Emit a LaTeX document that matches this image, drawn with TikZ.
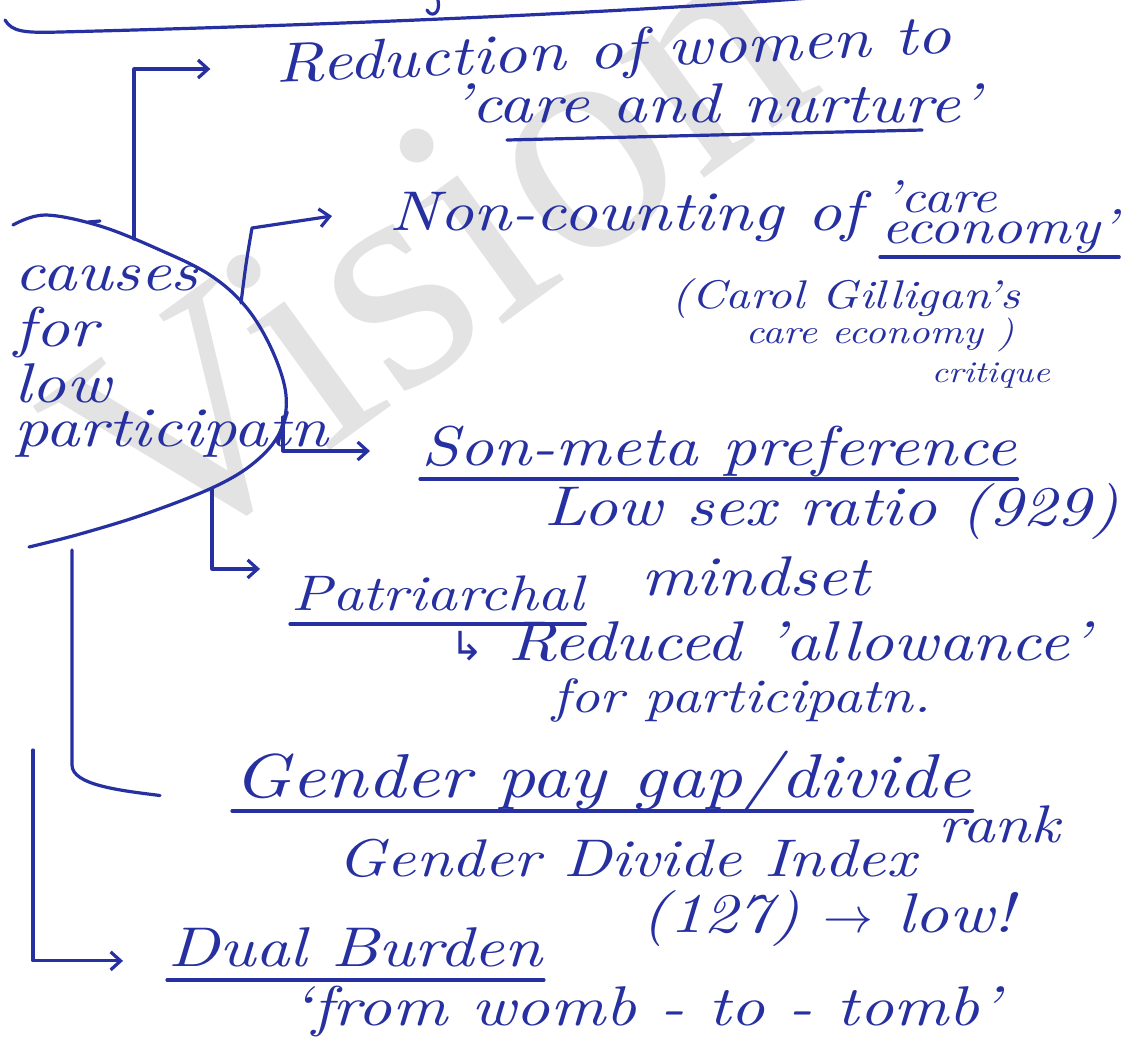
\documentclass[tikz,border=0pt]{standalone}
\usepackage{fontspec}
\usepackage{xcolor}
\newfontfamily\symfont{DejaVu Sans}
\newfontfamily\markfont{Liberation Serif}
\newfontfamily\hand[FakeStretch=1.2,Ligatures=TeX]{lmroman10-italic.otf}
\usetikzlibrary{arrows.meta}
\definecolor{pen}{RGB}{38,48,160}
\newcommand{\handsize}[1]{\hand\fontsize{#1}{#1}\selectfont}

\begin{document}
\begin{tikzpicture}
  [x=0.5pt,y=-0.5pt,color=pen,line width=1.6pt,line cap=round,line join=round,
   every node/.style={inner sep=0pt,anchor=base west,font=\handsize{28}},
   small/.style={font=\handsize{20}},
   tip/.style={-{Straight Barb[length=5pt,width=9pt]}}]
  \fill[white] (0,0) rectangle (1136,1046);
  \useasboundingbox (0,0) rectangle (1136,1046);

  % watermark
  \node[anchor=center,rotate=36,text=gray!22,font=\fontsize{160}{160}\markfont] (mark) at (430,250) {Vision};

  % end of the heading line above
  \draw (5,20) .. controls (12,32) and (25,33) .. (60,32) .. controls (300,26) and (600,14) .. (810,-2);
  \draw (438,0) .. controls (441,14) and (431,18) .. (427,10);

  % the cause oval
  \draw plot[smooth,tension=0.6] coordinates {(13,225) (45,215) (100,226) (160,250) (210,275) (246,307)
    (272,350) (286,395) (280,432) (255,462) (214,487) (145,514) (80,534) (29,547)};
  \draw (88,222) -- (100,221);
  \coordinate (etop) at (134,239);
  \coordinate (e1) at (241,303);
  \coordinate (e2) at (283,417);
  \coordinate (e3) at (212,489);
  \coordinate (gtop) at (72,550);
  \coordinate (dtop) at (33,750);

  \node[anchor=north west,align=left,font=\handsize{28}\linespread{0.8}] (cause) at (13,264)
    {causes\\for\\low\\[-6pt]participatn};

  \node[rotate=2.5] (red) at (275,83) {Reduction of women to};
  \node (care) at (449,122) {'care and nurture'};

  \node (noncount) at (388,230) {Non-counting of};
  \node[font=\handsize{23}] (careq) at (882,212) {'care};
  \node[font=\handsize{24.5}] (econ) at (880,243) {economy'};
  \node[small] (carol) at (670,308) {(Carol Gilligan's};
  \node[font=\handsize{17}] (careeco) at (744,343) {care economy )};
  \node[font=\handsize{15}] (crit) at (930,382) {critique};

  \node (son) at (420,465) {Son-meta preference};
  \node (sexr) at (543,525) {Low sex ratio (929)};

  \node[font=\handsize{25}] (patri) at (290,610) {Patriarchal};
  \node (mind) at (640,595) {mindset};
  \node (allow) at (449,660) {{\symfont\fontsize{20}{20}\selectfont ↳} Reduced 'allowance'};
  \node[font=\handsize{24}] (forp) at (551,712) {for participatn.};

  \node[font=\handsize{31}] (gap) at (232,797) {Gender pay gap/divide};
  \node[font=\handsize{26.5}] (gdi) at (336,876) {Gender Divide Index \raisebox{17pt}{rank}};
  \node (lowr) at (640,932) {(127) $\rightarrow$ low!};

  \node (dual) at (167,966) {Dual Burden};
  \node (womb) at (290,1025) {`from womb - to - tomb'};

  % underlines
  \foreach \n in {econ,son,patri,gap,dual}
    \draw ([yshift=-7pt]\n.base west) -- ([yshift=-7pt]\n.base east);
  \draw ([shift={(29pt,-9pt)}]care.base west) -- ([shift={(-30pt,-4pt)}]care.base east);

  % branches
  \draw[tip] (etop) |- ([xshift=-32pt]red.west);
  \draw[tip] (e1) .. controls +(5,-40) .. ++(11,-75) -- ([xshift=-28pt]noncount.west);
  \draw[tip] (e2) |- ([xshift=-25pt]son.west);
  \draw[tip] (e3) |- ([shift={(-15pt,12pt)}]patri.west);
  \draw (gtop) -- ++(0,215) .. controls +(0,20) and +(-40,-5) .. ([shift={(-36pt,-7pt)}]gap.west);
  \draw[tip] (dtop) |- ([shift={(-22pt,-7pt)}]dual.west);

\end{tikzpicture}
\end{document}
